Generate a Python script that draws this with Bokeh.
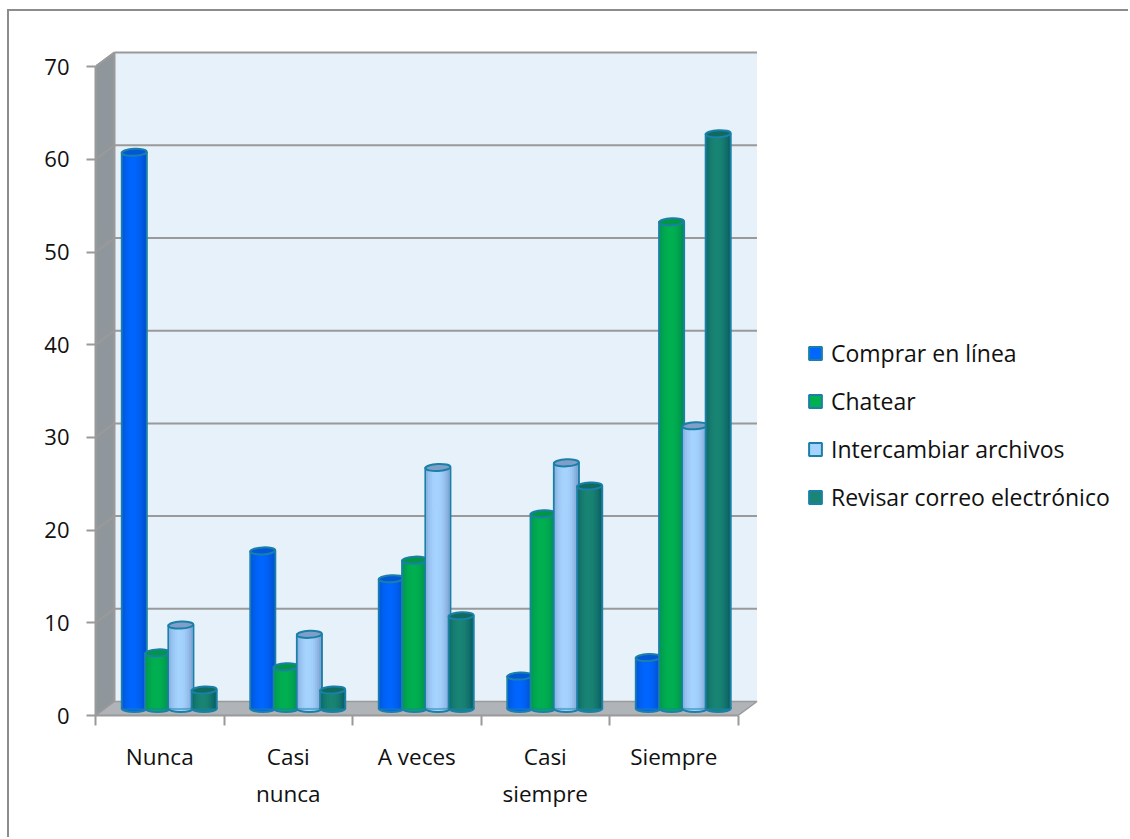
from bokeh.plotting import figure
from bokeh.models import Range1d, FixedTicker, Legend, LegendItem
from bokeh.embed import file_html
from bokeh.resources import INLINE

categories = ["Nunca", "Casi\nnunca", "A veces", "Casi\nsiempre", "Siempre"]
series_names = ["Comprar en línea", "Chatear", "Intercambiar archivos", "Revisar correo electrónico"]
comprar = [60, 17, 14, 3.5, 5.5]
chatear = [6, 4.5, 16, 21, 52.5]
intercambiar = [9, 8, 26, 26.5, 30.5]
revisar = [2, 2, 10, 24, 62]
series_values = [comprar, chatear, intercambiar, revisar]
y_ticks = [0, 10, 20, 30, 40, 50, 60, 70]

# style: main, edge shade, cap
palette = [("#0066ff", "#0050c8", "#0058d8"),
           ("#00b050", "#008c50", "#009645"),
           ("#a6d4ff", "#7c9fd0", "#7f9fc8"),
           ("#1a8574", "#0a5e64", "#0f6a60")]
OUTLINE = "#1a80a8"
GRAY = "#9a9a9a"
FONT = "Open Sans"

PX_X = 128.5
PX_Y = 9.27
W, H = 1121, 828
LEFT, BOTTOM = 86, 124
DX = 19 / PX_X
DY = 14 / PX_Y
BAR_W = 25 / PX_X
BAR_STEP = 23.3 / PX_X
CAP_H = 7 / PX_Y

p = figure(width=W, height=H, output_backend="svg", toolbar_location=None,
           x_range=Range1d(0, (W - LEFT) / PX_X), y_range=Range1d(0, (H - BOTTOM) / PX_Y),
           min_border_left=LEFT, min_border_bottom=BOTTOM, min_border_top=0, min_border_right=0,
           margin=(9, 0, 0, 7),
           styles={"border-left": "2px solid #8c8c8c", "border-top": "2px solid #8c8c8c"})
p.grid.visible = False
p.outline_line_color = None

n = len(categories)
# walls and floor
p.patch([0, DX, DX, 0], [0, DY, 70 + DY, 70], fill_color="#90979c", line_color=GRAY, line_width=2)
p.patch([DX, n + DX, n + DX, DX], [DY, DY, 70 + DY, 70 + DY], fill_color="#e6f1fa", line_color=None)
p.patch([0, n, n + DX, DX], [0, 0, DY, DY], fill_color="#b0b4b8", line_color=GRAY, line_width=1.5)
grid_vals = y_ticks[1:]
p.segment(x0=[0] * len(grid_vals), y0=grid_vals, x1=[DX] * len(grid_vals), y1=[v + DY for v in grid_vals],
          line_color=GRAY, line_width=2)
p.segment(x0=[DX] * len(grid_vals), y0=[v + DY for v in grid_vals], x1=[n + DX] * len(grid_vals),
          y1=[v + DY for v in grid_vals], line_color=GRAY, line_width=2)
p.segment(x0=[DX], y0=[DY], x1=[DX], y1=[70 + DY], line_color=GRAY, line_width=2)

# cylinders
STRIPS = 12
base_y = DY / 2
legend_items = []
for j, vals in enumerate(series_values):
    main, edge, cap = palette[j]
    xs = [i + 0.5 + DX / 2 + (j - 1.5) * BAR_STEP for i in range(n)]
    tops = [v + base_y for v in vals]
    p.ellipse(x=xs, y=[base_y] * n, width=BAR_W, height=CAP_H, fill_color=main, line_color=OUTLINE, line_width=2)
    r = p.vbar(x=xs, bottom=base_y, top=tops, width=BAR_W, fill_color=main, line_color=OUTLINE, line_width=2)
    legend_items.append(LegendItem(label=series_names[j], renderers=[r]))
    inner = BAR_W * 0.92
    sw = inner / STRIPS
    for k in range(STRIPS):
        t = abs((k + 0.5) / STRIPS - 0.45) / 0.55
        t = min(1, t) ** 2
        m = tuple(int(main[a:a + 2], 16) for a in (1, 3, 5))
        e = tuple(int(edge[a:a + 2], 16) for a in (1, 3, 5))
        c = "#%02x%02x%02x" % tuple(int(m[a] + (e[a] - m[a]) * t) for a in range(3))
        off = -inner / 2 + (k + 0.5) * sw
        p.vbar(x=[x + off for x in xs], bottom=base_y, top=tops, width=sw * 1.1, fill_color=c, line_color=None)
    p.ellipse(x=xs, y=tops, width=BAR_W, height=CAP_H, angle=0.05, fill_color=cap, line_color=OUTLINE, line_width=2)

# axes
xa = p.xaxis[0]
xa.ticker = FixedTicker(ticks=[i + 0.5 for i in range(n)], minor_ticks=list(range(n + 1)))
xa.major_label_overrides = {i + 0.5: c for i, c in enumerate(categories)}
xa.bounds = (0, n)
xa.axis_line_color = GRAY
xa.axis_line_width = 2
xa.major_tick_line_color = None
xa.major_tick_out = 0
xa.major_tick_in = 0
xa.minor_tick_line_color = GRAY
xa.minor_tick_line_width = 2
xa.minor_tick_out = 10
xa.minor_tick_in = 0
xa.major_label_standoff = 15
xa.major_label_text_font = FONT
xa.major_label_text_font_size = "22.5px"
xa.major_label_text_color = "#111111"

ya = p.yaxis[0]
ya.ticker = FixedTicker(ticks=y_ticks, minor_ticks=[])
ya.bounds = (0, 70)
ya.axis_line_color = GRAY
ya.axis_line_width = 2
ya.major_tick_line_color = GRAY
ya.major_tick_line_width = 2
ya.major_tick_out = 9
ya.major_tick_in = 0
ya.major_label_standoff = 17
ya.major_label_text_font = FONT
ya.major_label_text_font_size = "22px"
ya.major_label_text_color = "#111111"

legend = Legend(items=legend_items, location=(712, 202), orientation="vertical",
                glyph_width=16, glyph_height=16, label_standoff=8, spacing=16,
                padding=0, margin=0, border_line_color=None, background_fill_alpha=0,
                label_text_font=FONT, label_text_font_size="23px", label_text_color="#111111",
                label_height=24)
p.add_layout(legend, "center")

open("out.html", "w").write(file_html(p, INLINE))
